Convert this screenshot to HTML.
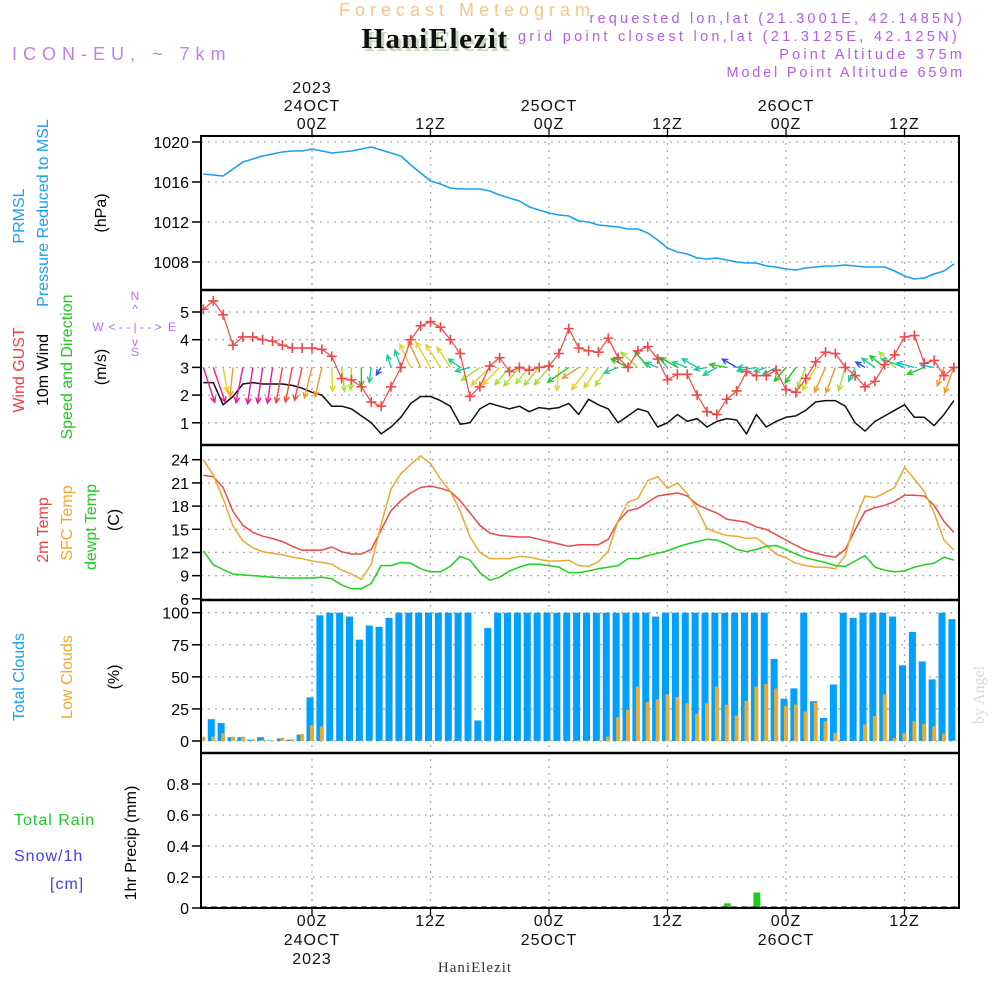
<!DOCTYPE html>
<html><head><meta charset="utf-8"><style>
html,body{margin:0;padding:0;background:#fff;}
svg{display:block;font-family:"Liberation Sans",sans-serif;}
</style></head><body>
<svg id="chart" width="1000" height="1000" viewBox="0 0 1000 1000" xmlns="http://www.w3.org/2000/svg">
<defs>
<clipPath id="plotclip"><rect x="201" y="136" width="758" height="772"/></clipPath>
</defs>
<g>
<text x="467" y="16" font-size="18" fill="#f2c88a" text-anchor="middle" letter-spacing="5">Forecast Meteogram</text>
<text x="438" y="51" font-family="Liberation Serif,serif" font-weight="bold" font-size="29" fill="#c8d8c0" text-anchor="middle" letter-spacing="1.5">HaniElezit</text>
<text x="435" y="48" font-family="Liberation Serif,serif" font-weight="bold" font-size="29" fill="#111" text-anchor="middle" letter-spacing="1.5">HaniElezit</text>
<text x="12" y="60" font-size="18" fill="#c080f0" letter-spacing="6">ICON-EU, ~ 7km</text>
<text x="965" y="23" font-size="14.5" fill="#b060e8" text-anchor="end" letter-spacing="3.2">requested lon,lat (21.3001E, 42.1485N)</text>
<text x="960" y="41" font-size="14.5" fill="#b060e8" text-anchor="end" letter-spacing="3.3">grid point closest lon,lat (21.3125E, 42.125N)</text>
<text x="965" y="59" font-size="14.5" fill="#b060e8" text-anchor="end" letter-spacing="3.2">Point Altitude 375m</text>
<text x="965" y="77" font-size="14.5" fill="#b060e8" text-anchor="end" letter-spacing="2.8">Model Point Altitude 659m</text>
</g>
<g font-size="16">
<text transform="rotate(-90 24 216)" x="24" y="216" fill="#1aa0f0" text-anchor="middle">PRMSL</text>
<text transform="rotate(-90 48 213)" x="48" y="213" fill="#1aa0f0" text-anchor="middle">Pressure Reduced to MSL</text>
<text transform="rotate(-90 106 213)" x="106" y="213" fill="#000" text-anchor="middle">(hPa)</text>
<text transform="rotate(-90 24 370)" x="24" y="370" fill="#f04040" text-anchor="middle">Wind GUST</text>
<text transform="rotate(-90 48 370)" x="48" y="370" fill="#000" text-anchor="middle">10m Wind</text>
<text transform="rotate(-90 72 367)" x="72" y="367" fill="#22c822" text-anchor="middle">Speed and Direction</text>
<text transform="rotate(-90 106 367)" x="106" y="367" fill="#000" text-anchor="middle">(m/s)</text>
<g fill="#b070f0" font-size="12">
<text x="135" y="300" text-anchor="middle">N</text>
<text x="135" y="313" text-anchor="middle">^</text>
<text x="135" y="331" text-anchor="middle">&lt; - - | - - &gt;</text>
<text x="98" y="331" text-anchor="middle">W</text>
<text x="172" y="331" text-anchor="middle">E</text>
<text x="135" y="346" text-anchor="middle">v</text>
<text x="135" y="356" text-anchor="middle">S</text>
</g>
<text transform="rotate(-90 48 530)" x="48" y="530" fill="#f04040" text-anchor="middle">2m Temp</text>
<text transform="rotate(-90 72 523)" x="72" y="523" fill="#f0a830" text-anchor="middle">SFC Temp</text>
<text transform="rotate(-90 96 527)" x="96" y="527" fill="#22c822" text-anchor="middle">dewpt Temp</text>
<text transform="rotate(-90 119 520)" x="119" y="520" fill="#000" text-anchor="middle">(C)</text>
<text transform="rotate(-90 24 677)" x="24" y="677" fill="#1aa0f0" text-anchor="middle">Total Clouds</text>
<text transform="rotate(-90 72 677)" x="72" y="677" fill="#f0a830" text-anchor="middle">Low Clouds</text>
<text transform="rotate(-90 119 677)" x="119" y="677" fill="#000" text-anchor="middle">(%)</text>
<text x="14" y="825" fill="#22c822" letter-spacing="1">Total  Rain</text>
<text x="14" y="861" fill="#4040f0" letter-spacing="1">Snow/1h</text>
<text x="50" y="889" fill="#4040f0" letter-spacing="1">[cm]</text>
<text transform="rotate(-90 136 843)" x="136" y="843" fill="#000" text-anchor="middle">1hr Precip (mm)</text>
</g>
<text transform="rotate(-90 984 695)" x="984" y="695" font-family="Liberation Serif,serif" font-size="16" fill="#d8d8d8" text-anchor="middle">by Angel</text>
<text x="475" y="972" font-family="Liberation Serif,serif" font-size="15" fill="#333" text-anchor="middle" letter-spacing="1">HaniElezit</text>
<g id="grid"></g>
<g id="marks" clip-path="url(#plotclip)"></g>
<g id="frames"></g>
<g id="axes" font-size="16"></g>
</svg>
<script>
// time in hours from 00Z 24 OCT, hourly t=-11..65
const hourStart = -11;
const pressure = [1016.8,1016.7,1016.6,1017.3,1018.0,1018.3,1018.6,1018.8,1019.0,1019.1,1019.1,
1019.3,1019.1,1018.9,1019.0,1019.1,1019.3,1019.5,1019.2,1018.9,1018.6,
1017.7,1016.9,1016.1,1015.8,1015.4,1015.3,1015.3,1015.3,1015.1,1014.7,
1014.4,1014.1,1013.5,1013.2,1012.9,1012.7,1012.6,1012.1,1012.0,1011.7,
1011.6,1011.5,1011.3,1011.3,1010.9,1010.2,1009.4,1009.0,1008.8,1008.4,
1008.3,1008.4,1008.2,1008.0,1007.9,1007.9,1007.6,1007.5,1007.3,1007.2,
1007.4,1007.5,1007.6,1007.6,1007.7,1007.6,1007.5,1007.5,1007.5,1007.1,
1006.6,1006.3,1006.4,1006.8,1007.1,1007.8];
const gust = [5.1,5.4,4.9,3.8,4.1,4.1,4.0,3.95,3.8,3.7,3.7,
3.7,3.65,3.4,2.6,2.55,2.3,1.75,1.6,2.3,3.0,
4.0,4.5,4.65,4.45,4.0,3.5,1.95,2.3,3.05,3.35,
2.85,3.0,2.9,3.0,3.05,3.5,4.4,3.7,3.6,3.55,
4.05,3.35,3.0,3.6,3.75,3.3,2.55,2.75,2.75,2.0,
1.4,1.3,1.85,2.15,2.85,2.7,2.7,2.9,2.2,2.1,
2.6,3.2,3.55,3.5,3.0,2.7,2.3,2.5,3.1,3.45,
4.1,4.15,3.15,3.25,2.7,3.0];
const windSpeed = [2.45,2.45,1.65,1.95,2.4,2.45,2.4,2.4,2.4,2.35,2.25,
2.1,2.0,1.6,1.6,1.5,1.25,1.0,0.6,0.85,1.2,
1.7,1.95,1.95,1.8,1.6,0.95,1.0,1.5,1.7,1.6,
1.5,1.6,1.4,1.55,1.5,1.55,1.7,1.3,1.85,1.65,
1.5,1.0,1.25,1.5,1.4,0.85,1.0,1.3,1.05,1.15,
0.85,1.05,1.15,1.1,0.6,1.3,0.85,1.05,1.2,1.25,
1.45,1.75,1.8,1.8,1.6,1.0,0.7,1.05,1.25,1.45,
1.65,1.2,1.2,0.9,1.3,1.8];
const windHeading = [162,161,170,186,191,188,188,188,190,191,193,
194,193,178,173,182,180,188,212,343,341,
335,335,330,328,327,306,255,235,226,224,
220,220,220,220,220,185,235,236,217,215,
215,248,297,312,322,292,317,300,290,300,
260,240,280,300,270,260,250,240,220,215,
202,210,204,200,196,205,300,305,308,315,
290,285,248,280,200,200];
const windColorCode = "ppyopppprrr"+"ooyggGtbtt"+"yoyyyttgyy"+"gggggyGoyy"+"gtGgGttGtt"+"ttGbctttGG"+"gyoogtbtGg"+"tcGcoo";
const temp2m = [22.0,21.8,20.4,17.3,15.5,14.6,14.1,13.8,13.4,12.8,12.3,
12.3,12.3,12.7,12.1,11.8,11.8,12.4,14.9,17.4,18.7,
19.7,20.4,20.6,20.3,19.9,18.7,17.1,15.5,14.5,14.2,
14.1,14.0,14.0,13.7,13.4,13.1,12.8,13.0,13.0,13.0,
13.7,16.0,17.4,17.7,18.5,19.3,19.5,19.7,19.3,18.2,
17.6,17.1,16.3,16.1,15.9,15.3,15.0,14.3,13.6,12.9,
12.3,11.9,11.6,11.4,12.4,14.9,17.3,17.8,18.1,18.6,
19.4,19.4,19.3,18.1,16.0,14.6];
const tempSfc = [24.0,22.0,19.0,15.4,13.5,12.6,12.1,11.9,11.7,11.4,11.2,
10.9,10.7,10.5,9.7,9.2,8.5,10.5,15.6,20.2,22.2,
23.4,24.5,23.5,21.5,19.9,17.4,14.0,12.0,11.2,11.2,
11.2,11.5,11.4,11.1,10.9,10.9,11.0,10.3,10.2,10.8,
12.2,16.1,18.5,19.0,21.3,21.8,20.3,21.0,19.6,17.6,
15.1,14.6,14.2,14.1,13.8,13.9,12.9,11.8,11.3,10.6,
10.3,10.1,10.1,9.9,11.6,16.2,19.3,19.1,19.7,20.4,
23.0,21.5,19.9,17.1,13.6,12.3];
const dewpt = [12.2,10.4,9.8,9.2,9.1,9.0,8.9,8.8,8.7,8.7,8.7,
8.7,8.8,8.6,7.8,7.3,7.3,8.0,10.3,10.3,10.7,
10.6,9.9,9.5,9.5,10.2,11.5,11.0,9.4,8.4,8.8,
9.6,10.1,10.5,10.5,10.3,10.1,9.4,9.4,9.6,9.9,
10.1,10.3,11.2,11.2,11.6,11.9,12.2,12.7,13.1,13.4,
13.7,13.6,13.1,12.4,12.1,12.4,12.8,12.9,12.4,11.8,
11.3,11.0,10.7,10.3,10.2,10.9,11.6,10.1,9.7,9.5,
9.6,10.1,10.4,10.6,11.4,11.0];
const totalClouds = [3,17,14,3,3,1,3,0.5,2,1,5,
34,98,100,100,97,79,90,89,96,100,
100,100,100,100,100,100,100,16,88,100,
100,100,100,100,100,100,100,100,100,100,
100,100,100,100,100,97,100,100,100,100,
100,100,100,100,100,100,100,64,33,41,
100,31,18,44,100,96,100,100,100,97,
59,85,62,48,100,95];
const lowClouds = [3,3,5.5,3,3,1,0.5,0,2,1,5,
12,11,0,0,0,0,0,0,0,0,
0,0,0,0,0,0,0,0,0,0,
0,0,0,0,0,0,0,0,0,0,
3,18,24,42,30,32,36,34,29,21,
29,42,28,19.5,31,42,44,40.5,27,28,
22.6,29.6,15,6,0,0,12.5,19,36,2,
6,15,13,11,5.5,0];
const precipHours = [42,44,45];
const precipValues = [0.03,0.01,0.1];
const pressureTicks = [1020,1016,1012,1008];
const windTicks = [5,4,3,2,1];
const tempTicks = [24,21,18,15,12,9,6];
const cloudTicks = [100,75,50,25,0];
const precipTicks = ["0.8","0.6","0.4","0.2","0"];
const timeTicks = [0,12,24,36,48,60];
const topLabels = [["2023","24OCT","00Z"],["","","12Z"],["","25OCT","00Z"],["","","12Z"],["","26OCT","00Z"],["","","12Z"]];
const bottomLabels = [["00Z","24OCT","2023"],["12Z","",""],["00Z","25OCT",""],["12Z","",""],["00Z","26OCT",""],["12Z","",""]];

const NS="http://www.w3.org/2000/svg";
const X0=201, X1=959;
const xT = t => 312 + 9.875*t;
const yP = v => 142 + (1020-v)*10;
const yW = v => 312 + (5-v)*27.7;
const yT = v => 459.7 + (24-v)*7.73;
const yC = v => 741 - v*1.283;
const yR = v => 908 - v*155;
const colorMap={p:"#ec1c90",r:"#f04a3a",o:"#f0982a",y:"#e6cf2a",g:"#a6e030",G:"#1ec81e",t:"#1cc898",c:"#1cbcd8",b:"#2850f0"};
function mk(tag,attrs,parent){const e=document.createElementNS(NS,tag);for(const k in attrs)e.setAttribute(k,attrs[k]);parent.appendChild(e);return e;}
const grid=document.getElementById('grid'), marks=document.getElementById('marks'), frames=document.getElementById('frames'), axes=document.getElementById('axes');

timeTicks.forEach(t=>{
  const l=mk('line',{x1:xT(t),x2:xT(t),y1:136,y2:908,stroke:'#aaa','stroke-width':1.3,'stroke-dasharray':'2 5'},grid);
  
  
});
function hgrid(ticks,fy,labels,name){
  ticks.forEach((v,i)=>{
    const y=fy(+v);
    const l=mk('line',{x1:X0,x2:X1,y1:y,y2:y,stroke:'#aaa','stroke-width':1.3,'stroke-dasharray':'2 5'},grid);
    
    
    mk('line',{x1:192,x2:201,y1:y,y2:y,stroke:'#000','stroke-width':1.5},axes);
    const tx=mk('text',{x:189,y:y+6,'text-anchor':'end',fill:'#000'},axes);
    tx.textContent=labels?labels[i]:v;
    
    
  });
}
hgrid(pressureTicks,yP,null,'pressure');
hgrid(windTicks,yW,null,'wind');
hgrid(tempTicks,yT,null,'temp');
hgrid(cloudTicks,yC,null,'cloud');
hgrid(precipTicks,yR,precipTicks,'precip');

function linePath(arr,fy,color,name,w){
  const d=arr.map((v,i)=>(i?'L':'M')+xT(hourStart+i).toFixed(1)+' '+fy(v).toFixed(1)).join(' ');
  const p=mk('path',{d:d,fill:'none',stroke:color,'stroke-width':w||1.5,'stroke-linejoin':'round'},marks);
  
  
}
linePath(pressure,yP,'#1aa0f0','pressure-line',1.6);

totalClouds.forEach((v,i)=>{
  const x=xT(hourStart+i);
  const r=mk('rect',{x:x-5.5,y:yC(v),width:7,height:741-yC(v),fill:'#00a0ff'},marks);
  
  
});
lowClouds.forEach((v,i)=>{
  const x=xT(hourStart+i);
  const r=mk('rect',{x:x-2,y:yC(v)-0.5,width:4,height:741-yC(v)+0.5,fill:'#e8aa30'},marks);
  
  
});
linePath(temp2m,yT,'#f04848','temp-2m-line');
linePath(tempSfc,yT,'#e8aa30','temp-sfc-line');
linePath(dewpt,yT,'#20d020','dewpoint-line');
linePath(windSpeed,yW,'#111','wind-speed-line');
windHeading.forEach((h,i)=>{
  const x=xT(hourStart+i), y=yW(3);
  const L=15*windSpeed[i];
  const a=h*Math.PI/180;
  const dx=L*Math.sin(a), dy=-L*Math.cos(a);
  const col=colorMap[windColorCode[i]]||'#a6e030';
  const tx=x+dx, ty=y+dy;
  const hl=6, ha=0.45;
  const ang=Math.atan2(Math.cos(a),-Math.sin(a));
  const p1=[tx+hl*Math.cos(ang+ha),ty+hl*Math.sin(ang+ha)];
  const p2=[tx+hl*Math.cos(ang-ha),ty+hl*Math.sin(ang-ha)];
  const p=mk('path',{d:`M${x} ${y} L${tx} ${ty} M${p1[0]} ${p1[1]} L${tx} ${ty} L${p2[0]} ${p2[1]}`,fill:'none',stroke:col,'stroke-width':1.4},marks);
  
  
});
linePath(gust,yW,'#f04848','gust-line',1.2);
gust.forEach((v,i)=>{
  const x=xT(hourStart+i), y=yW(v);
  const p=mk('path',{d:`M${x-5} ${y} H${x+5} M${x} ${y-5} V${y+5}`,stroke:'#f04848','stroke-width':1.6},marks);
  
  
});
precipHours.forEach((h,i)=>{
  const x=xT(h);
  const r=mk('rect',{x:x-3,y:yR(precipValues[i]),width:7,height:908-yR(precipValues[i]),fill:'#22cc22'},marks);
  
  
});
mk('line',{x1:X0,x2:X1,y1:907,y2:907,stroke:'#555','stroke-width':1.5,'stroke-dasharray':'6 4'},marks);

mk('rect',{x:X0,y:136,width:X1-X0,height:772,fill:'none',stroke:'#000','stroke-width':2},frames);
[290,445,600,753].forEach(y=>mk('line',{x1:X0,x2:X1,y1:y,y2:y,stroke:'#000','stroke-width':2.5},frames));
timeTicks.forEach((t,i)=>{
  const x=xT(t);
  mk('line',{x1:x,x2:x,y1:128,y2:136,stroke:'#000','stroke-width':1.3},axes);
  mk('line',{x1:x,x2:x,y1:908,y2:916,stroke:'#000','stroke-width':1.3},axes);
  topLabels[i].forEach((s,k)=>{ if(!s)return;
    const e=mk('text',{x:x,y:93+k*18,'text-anchor':'middle',fill:'#111','letter-spacing':'1'},axes); e.textContent=s;
    
    
  });
  bottomLabels[i].forEach((s,k)=>{ if(!s)return;
    const e=mk('text',{x:x,y:926+k*19,'text-anchor':'middle',fill:'#111','letter-spacing':'1'},axes); e.textContent=s;
    
    
  });
});
</script>
</body></html>
